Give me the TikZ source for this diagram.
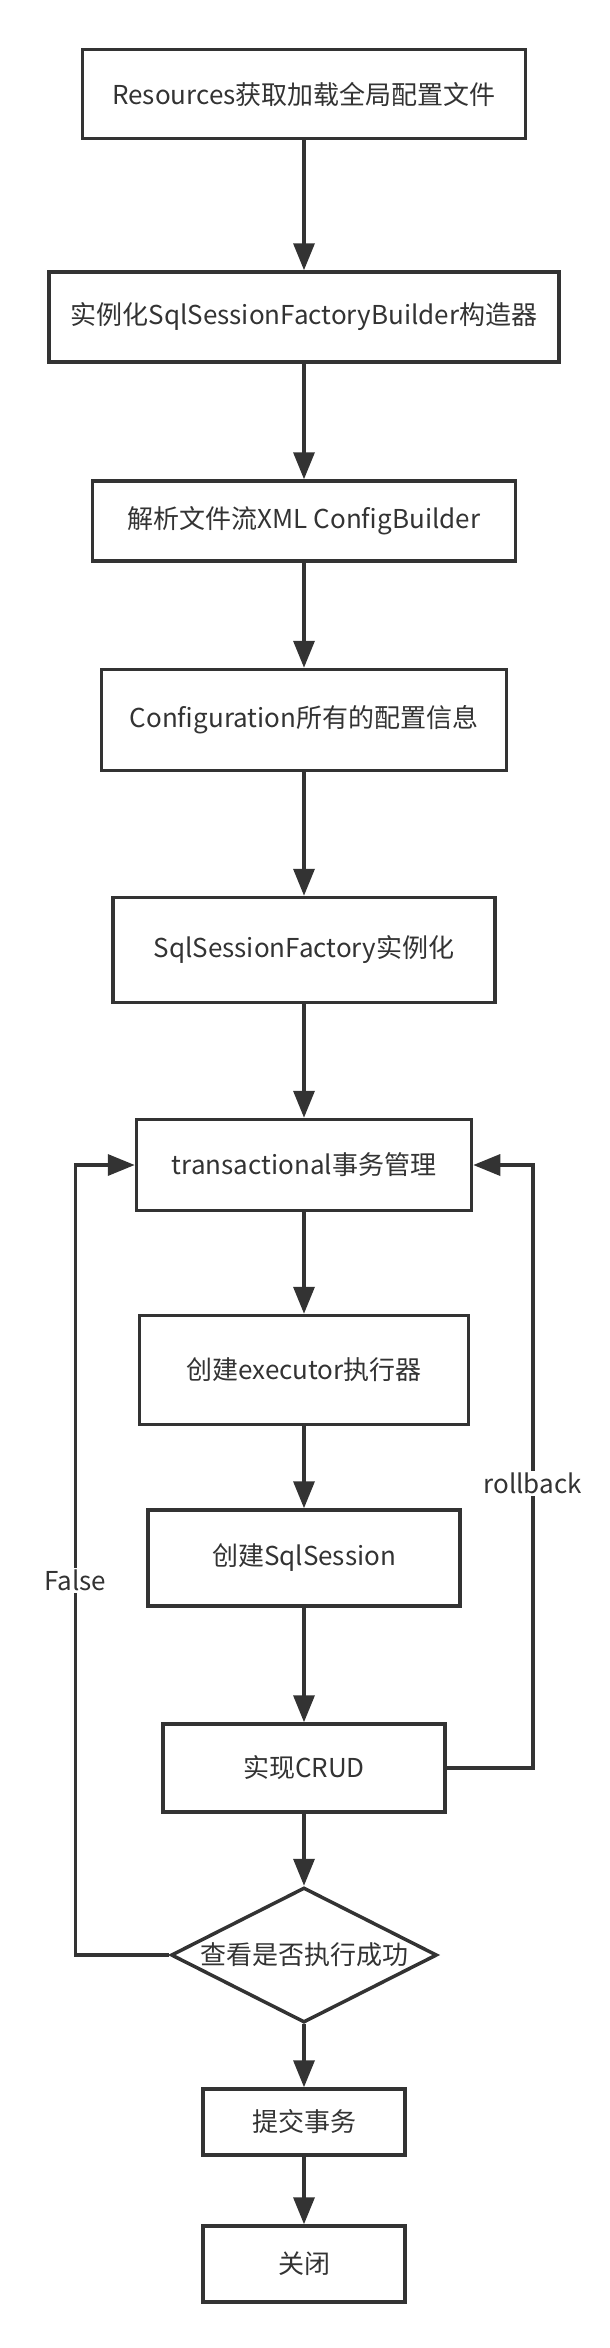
\documentclass[tikz,border=0pt]{standalone}
\usepackage{fontspec}
\setmainfont{Noto Sans CJK SC}
\usetikzlibrary{shapes.geometric,arrows.meta}
\definecolor{ink}{HTML}{333333}
\begin{document}
\begin{tikzpicture}[x=1pt, y=-1pt, line width=3.5pt,
    every node/.style={font=\fontsize{26}{30}\selectfont, text=ink},
    box/.style={draw=ink, rectangle, inner sep=0pt},
    decision/.style={draw=ink, diamond, inner sep=0pt},
    arr/.style={draw=ink, -{Triangle[length=27pt, width=21pt]}},
    lbl/.style={fill=white, inner sep=2pt}]
            \def \cx {304}
            \useasboundingbox (0,0) rectangle (610,2348);
            \node[box, minimum width=443pt, minimum height=89pt] (res) at (\cx, 94) {Resources获取加载全局配置文件};
            \node[box, minimum width=510pt, minimum height=90pt] (builder) at (\cx, 317) {实例化SqlSessionFactoryBuilder构造器};
            \node[box, minimum width=423pt, minimum height=80pt] (xml) at (\cx, 521) {解析文件流XML ConfigBuilder};
            \node[box, minimum width=405pt, minimum height=101pt] (config) at (\cx, 720) {Configuration所有的配置信息};
            \node[box, minimum width=382pt, minimum height=105pt] (factory) at (\cx, 950) {SqlSessionFactory实例化};
            \node[box, minimum width=335pt, minimum height=91pt] (trans) at (\cx, 1165) {transactional事务管理};
            \node[box, minimum width=329pt, minimum height=109pt] (exec) at (\cx, 1370) {创建executor执行器};
            \node[box, minimum width=312pt, minimum height=96pt] (session) at (\cx, 1558) {创建SqlSession};
            \node[box, minimum width=282pt, minimum height=88pt] (crud) at (\cx, 1768) {实现CRUD};
            \node[decision, minimum width=266pt, minimum height=135pt, label={[name=checktxt]center:查看是否执行成功}] (check) at (\cx, 1955) {};
            \node[box, minimum width=202pt, minimum height=66pt] (commit) at (\cx, 2122) {提交事务};
            \node[box, minimum width=202pt, minimum height=76pt] (close) at (\cx, 2264) {关闭};
            \draw[arr] (res) -- (builder);
            \draw[arr] (builder) -- (xml);
            \draw[arr] (xml) -- (config);
            \draw[arr] (config) -- (factory);
            \draw[arr] (factory) -- (trans);
            \draw[arr] (trans) -- (exec);
            \draw[arr] (exec) -- (session);
            \draw[arr] (session) -- (crud);
            \draw[arr] (crud) -- (check);
            \draw[arr] (check) -- (commit);
            \draw[arr] (commit) -- (close);
            % loops back to transactional
            \draw[arr] (check.west) -- ++(-94,0) |- (trans.west) node[lbl, pos=0.237] (false) {False};
            \draw[arr] (crud.east) -- ++(86,0) |- (trans.east) node[lbl, pos=0.236] (rollback) {rollback};
        \end{tikzpicture}
\end{document}
